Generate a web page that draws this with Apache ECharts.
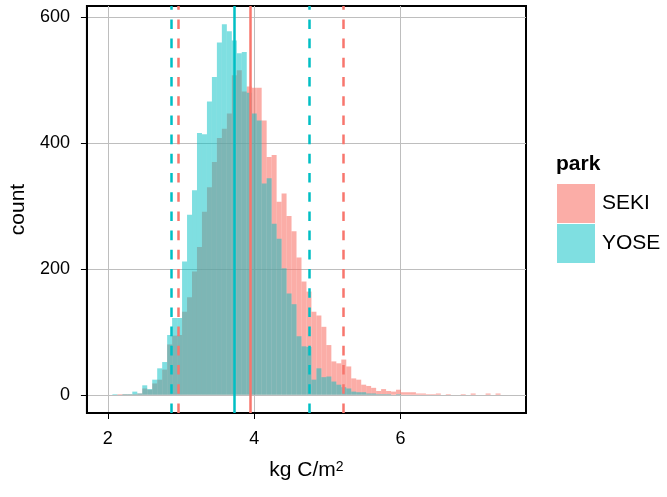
<!DOCTYPE html>
<html>
<head>
<meta charset="utf-8">
<script src="https://cdn.jsdelivr.net/npm/echarts@6/dist/echarts.min.js"></script>
<style>
  html, body { margin: 0; padding: 0; background: #fff; }
  #chart { width: 667px; height: 497px; }
</style>
</head>
<body>
<div id="chart"></div>
<script>
  // histogram bins (same bins for both parks)
  const binStart = 2.062
  const binWidth = 0.068
  const sekiCounts = [
    0, 1, 1, 1, 1, 2, 10, 8, 18, 24, 40, 80, 94, 95, 132,
    155, 196, 235, 291, 330, 370, 408, 423, 447, 508, 516, 482, 490, 488, 488,
    436, 378, 381, 307, 320, 284, 260, 218, 180, 164, 132, 126, 108, 79, 53,
    50, 56, 45, 26, 24, 16, 14, 11, 6, 9, 6, 5, 8, 4, 4,
    4, 2, 2, 1, 1, 2, 0, 1, 0, 0, 1, 0, 2, 0, 0, 2, 0, 2
  ]
  const yoseCounts = [
    1, 0, 1, 1, 5, 2, 15, 9, 24, 42, 52, 95, 122, 122, 212,
    286, 325, 416, 414, 466, 505, 560, 589, 578, 563, 543, 545, 480, 447, 436,
    336, 344, 272, 248, 201, 161, 144, 93, 77, 76, 24, 42, 28, 29, 21,
    16, 12, 10, 5, 4, 4, 2, 2, 1, 1, 1, 0, 1, 0, 0,
    0, 0, 0, 0, 0, 0, 0, 0, 0, 0, 0, 0, 0, 0, 0, 0, 0, 0
  ]
  const sekiMean = 3.937
  const yoseMean = 3.727
  const sekiQuantiles = [2.963, 5.207]
  const yoseQuantiles = [2.873, 4.754]
  const xTicks = [2, 4, 6]
  const yTicks = [0, 200, 400, 600]

  const red = '#F8766D'
  const teal = '#00BFC4'
  const font = 'Liberation Sans, Arial, sans-serif'

  function toBins(counts) {
    return counts.map((c, i) => [binStart + i * binWidth, binStart + (i + 1) * binWidth, c])
  }

  function renderBars(params, api) {
    let p0 = api.coord([api.value(0), api.value(2)])
    let p1 = api.coord([api.value(1), 0])
    return {
      type: 'rect',
      shape: { x: p0[0], y: p0[1], width: p1[0] - p0[0], height: p1[1] - p0[1] },
      style: api.style()
    }
  }

  function vline(x, color, dashed) {
    return {
      xAxis: x,
      lineStyle: { color: color, width: 2.5, type: dashed ? [9.6, 9.6] : 'solid' }
    }
  }

  let chart = echarts.init(document.getElementById('chart'))
  let options = {
    animation: false,
    textStyle: { fontFamily: font },
    title: {
      text: 'park',
      left: 556,
      top: 154,
      padding: 0,
      textStyle: { fontSize: 21, fontWeight: 'bold', color: '#000', fontFamily: font }
    },
    legend: {
      data: ['SEKI', 'YOSE'],
      orient: 'vertical',
      left: 557,
      top: 184,
      padding: 0,
      itemWidth: 38,
      itemHeight: 39,
      itemGap: 1,
      icon: 'rect',
      selectedMode: false,
      textStyle: { fontSize: 21, color: '#000', fontFamily: font, padding: [0, 0, 0, 2] }
    },
    grid: {
      left: 85,
      right: 141,
      top: 6,
      bottom: 84,
      show: true,
      borderColor: '#000',
      borderWidth: 2,
      backgroundColor: '#fff'
    },
    xAxis: {
      type: 'value',
      min: 1.714,
      max: 7.714,
      name: 'kg C/m{sup|2}',
      nameLocation: 'middle',
      nameGap: 47,
      nameTextStyle: {
        fontSize: 21, color: '#000', fontFamily: font,
        rich: { sup: { fontSize: 14, verticalAlign: 'top', color: '#000', fontFamily: font } }
      },
      axisLine: { show: true, onZero: false, lineStyle: { color: '#000', width: 2 } },
      axisTick: { show: true, length: 6, customValues: xTicks, lineStyle: { color: '#000', width: 1 } },
      axisLabel: { customValues: xTicks, fontSize: 18, color: '#000', margin: 17, fontFamily: font },
      splitLine: { show: true, lineStyle: { color: '#BEBEBE', width: 1 } }
    },
    yAxis: {
      type: 'value',
      min: -29,
      max: 618,
      name: 'count',
      nameLocation: 'middle',
      nameGap: 50,
      nameTextStyle: { fontSize: 21, color: '#000', fontFamily: font },
      axisLine: { show: true, onZero: false, lineStyle: { color: '#000', width: 2 } },
      axisTick: { show: true, length: 6, customValues: yTicks, lineStyle: { color: '#000', width: 1 } },
      axisLabel: { customValues: yTicks, fontSize: 18, color: '#000', margin: 17, fontFamily: font },
      splitLine: { show: true, lineStyle: { color: '#BEBEBE', width: 1 } }
    },
    series: [
      {
        name: 'SEKI',
        type: 'custom',
        renderItem: renderBars,
        encode: { x: [0, 1], y: 2 },
        itemStyle: { color: 'rgba(248,118,109,0.6)' },
        data: toBins(sekiCounts),
        clip: true,
        z: 2
      },
      {
        name: 'YOSE',
        type: 'custom',
        renderItem: renderBars,
        encode: { x: [0, 1], y: 2 },
        itemStyle: { color: 'rgba(0,191,196,0.5)' },
        data: toBins(yoseCounts),
        clip: true,
        z: 3
      },
      {
        name: 'lines',
        type: 'line',
        data: [],
        z: 5,
        markLine: {
          silent: true,
          symbol: ['none', 'none'],
          label: { show: false },
          animation: false,
          data: [
            vline(yoseQuantiles[0], teal, true),
            vline(yoseQuantiles[1], teal, true),
            vline(sekiQuantiles[0], red, true),
            vline(sekiQuantiles[1], red, true),
            vline(yoseMean, teal, false),
            vline(sekiMean, red, false)
          ]
        }
      }
    ]
  }
  chart.setOption(options, true)
</script>
</body>
</html>
